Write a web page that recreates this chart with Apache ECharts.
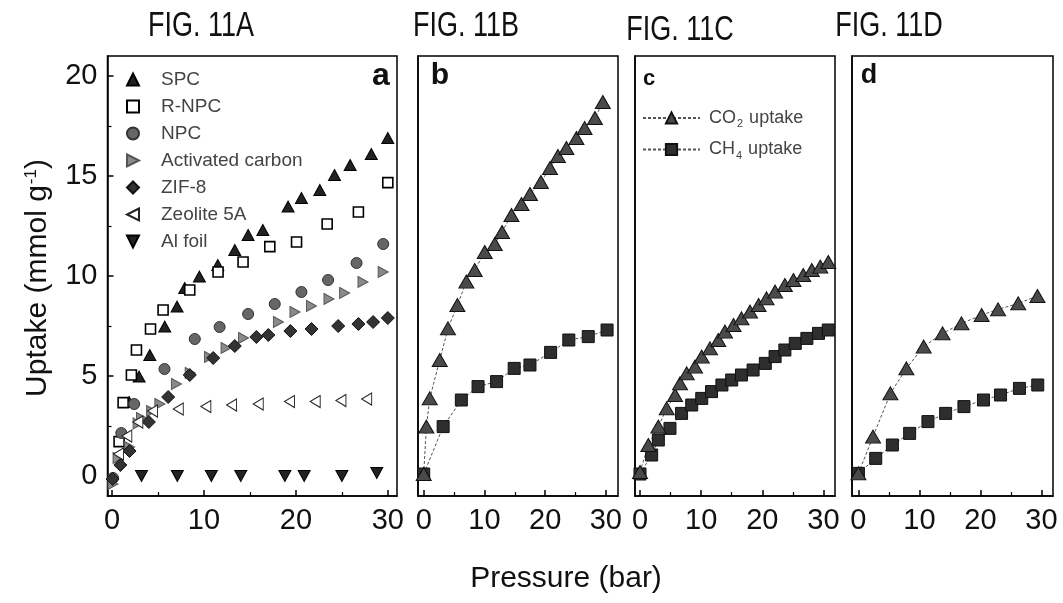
<!DOCTYPE html>
<html><head><meta charset="utf-8">
<script src="https://cdn.jsdelivr.net/npm/echarts@6/dist/echarts.min.js"></script>
<style>html,body{margin:0;padding:0;background:#fff}#c{width:1063px;height:603px}</style>
</head><body><div id="c"></div><script>
// ---- Panel a (FIG. 11A) : [pressure bar, uptake mmol/g]
const spc = [[1.85,3.7],[2.94,4.97],[4.1,6.05],[5.73,7.47],[7.07,8.47],[7.9,9.4],[9.5,9.97],[11.5,10.55],[13.35,11.3],[14.8,12.05],[16.4,12.3],[19.15,13.47],[20.6,13.9],[22.6,14.3],[24.2,15.05],[25.9,15.55],[28.2,16.1],[30.0,16.9]];
const rnpc = [[0.76,1.72],[1.2,3.67],[2.1,5.05],[2.65,6.3],[4.18,7.35],[5.55,8.3],[8.45,9.3],[11.53,10.2],[14.25,10.7],[17.16,11.47],[20.07,11.7],[23.4,12.6],[26.8,13.2],[30.0,14.67]];
const npc = [[0.1,-0.1],[1.0,2.15],[2.4,3.6],[5.7,5.35],[9.0,6.85],[11.7,7.45],[14.8,8.1],[17.7,8.6],[20.6,9.2],[23.5,9.8],[26.6,10.65],[29.5,11.6]];
const activatedCarbon = [[0.1,-0.4],[0.65,0.9],[1.9,1.45],[2.83,2.63],[3.2,2.9],[4.3,3.25],[5.2,3.6],[7.0,4.6],[8.5,5.15],[10.6,5.95],[12.4,6.4],[14.3,6.9],[18.1,7.7],[19.9,8.2],[21.7,8.5],[23.6,8.85],[25.3,9.15],[27.3,9.7],[29.5,10.2]];
const zif8 = [[0.05,-0.15],[0.9,0.55],[1.9,1.25],[4.0,2.7],[6.1,3.95],[8.45,5.05],[11.0,5.9],[13.35,6.5],[15.7,6.95],[17.0,7.05],[19.4,7.25],[21.7,7.35],[24.6,7.5],[26.8,7.6],[28.4,7.7],[30.0,7.9]];
const zeolite5A = [[0.7,1.1],[1.6,2.0],[2.8,2.7],[4.4,3.25],[7.2,3.35],[10.2,3.47],[13.0,3.55],[15.9,3.6],[19.3,3.72],[22.1,3.72],[24.9,3.77],[27.7,3.85]];
const alFoil = [[3.2,0.0],[7.1,0.0],[10.8,0.0],[14.0,0.0],[18.8,0.0],[20.9,0.0],[25.0,0.0],[28.8,0.15]];
// ---- Panel b (FIG. 11B)
const co2B = [[0,0.1],[0.44,2.47],[1.0,3.88],[2.64,5.8],[4.0,7.38],[5.55,8.55],[7.03,9.72],[8.4,10.3],[10.05,11.2],[11.7,11.6],[12.9,12.2],[14.45,13.05],[16.1,13.6],[17.5,14.1],[19.3,14.7],[20.8,15.4],[22.1,16.0],[23.5,16.4],[25.15,16.9],[26.5,17.4],[28.2,17.9],[29.5,18.7]];
const ch4B = [[0,0.1],[3.2,2.47],[6.2,3.8],[8.95,4.47],[12.0,4.72],[14.9,5.38],[17.5,5.55],[20.9,6.18],[23.9,6.8],[27.1,6.97],[30.2,7.3]];
// ---- Panel c (FIG. 11C)
const co2C = [[0,0.2],[1.36,1.55],[3.0,2.47],[4.37,3.38],[5.73,4.05],[6.55,4.63],[7.64,5.13],[9.0,5.47],[10.1,5.97],[11.45,6.38],[12.8,6.8],[13.9,7.22],[15.3,7.55],[16.6,7.88],[18.0,8.22],[19.4,8.55],[20.7,8.88],[22.1,9.22],[23.7,9.55],[25.1,9.8],[26.7,10.05],[28.1,10.3],[29.5,10.47],[30.8,10.7]];
const ch4C = [[0,0.1],[1.9,1.05],[3.0,1.8],[4.9,2.38],[6.8,3.13],[8.46,3.55],[10.1,3.88],[11.7,4.22],[13.4,4.55],[15.0,4.8],[16.6,5.05],[18.5,5.3],[20.5,5.63],[22.1,5.97],[23.7,6.3],[25.4,6.63],[27.3,6.88],[29.2,7.13],[30.8,7.3]];
// ---- Panel d (FIG. 11D)
const co2D = [[0,0.13],[2.4,1.97],[5.25,4.13],[7.87,5.38],[10.7,6.47],[13.8,7.13],[16.9,7.63],[20.2,8.05],[22.9,8.33],[26.2,8.63],[29.35,9.0]];
const ch4D = [[0,0.13],[2.84,0.88],[5.57,1.55],[8.4,2.13],[11.4,2.72],[14.3,3.13],[17.3,3.47],[20.5,3.8],[23.3,4.05],[26.4,4.38],[29.4,4.55]];
// ---- ticks & labels
const xMajor = [0,10,20,30];
const xMinor = [5,15,25];
const yMajor = [0,5,10,15,20];
const yMinor = [2.5,7.5,12.5,17.5];
const panelA_names = ['SPC','R-NPC','NPC','Activated carbon','ZIF-8','Zeolite 5A','Al foil'];
const gasNames = ['CO2 uptake','CH4 uptake'];
const figTitles = ['FIG. 11A','FIG. 11B','FIG. 11C','FIG. 11D'];
const panelLetters = ['a','b','c','d'];

const FONT = '"Liberation Sans", Arial, sans-serif';
const chart = echarts.init(document.getElementById('c'), null, {renderer:'canvas'});

const grids = [
  {left:107.5, top:56, width:289.5, height:440},
  {left:418, top:56, width:200, height:440},
  {left:635, top:56, width:200, height:440},
  {left:852, top:56, width:201, height:440}
].map(g => Object.assign(g, {show:true, borderColor:'#000', borderWidth:1.5, containLabel:false}));
const xRanges = [[-0.5,31],[-0.94,32],[-0.82,31.9],[-1.05,31.9]];

const xAxes = [];
xRanges.forEach((r,i) => {
  xAxes.push({gridIndex:i, type:'value', position:'bottom', min:r[0], max:r[1],
    axisLine:{show:true, onZero:false, lineStyle:{color:'#000', width:1.5}},
    axisTick:{show:true, inside:true, length:6, customValues:xMajor, lineStyle:{color:'#000', width:1.5}},
    axisLabel:{show:true, customValues:xMajor, fontSize:29, color:'#111', margin:10, fontFamily:FONT},
    splitLine:{show:false}});
  xAxes.push({gridIndex:i, type:'value', position:'bottom', min:r[0], max:r[1],
    axisLine:{show:false, onZero:false},
    axisTick:{show:true, inside:true, length:4, customValues:xMinor, lineStyle:{color:'#000', width:1.2}},
    axisLabel:{show:false}, splitLine:{show:false}});
});
const yAxes = [
  {gridIndex:0, type:'value', position:'left', min:-1, max:21,
    axisLine:{show:true, onZero:false, lineStyle:{color:'#000', width:1.5}},
    axisTick:{show:true, inside:true, length:6, customValues:yMajor, lineStyle:{color:'#000', width:1.5}},
    axisLabel:{show:true, customValues:yMajor, fontSize:29, color:'#111', margin:10, fontFamily:FONT},
    splitLine:{show:false}},
  {gridIndex:0, type:'value', position:'left', min:-1, max:21,
    axisLine:{show:false, onZero:false},
    axisTick:{show:true, inside:true, length:4, customValues:yMinor, lineStyle:{color:'#000', width:1.2}},
    axisLabel:{show:false}, splitLine:{show:false}},
];
[1,2,3].forEach(i => yAxes.push({gridIndex:i, type:'value', position:'left', min:-1, max:21,
  axisLine:{show:true, onZero:false, lineStyle:{color:'#000', width:1.5}},
  axisTick:{show:false}, axisLabel:{show:false}, splitLine:{show:false}}));

const triR = 'path://M0,0 L10,5 L0,10 Z';
const triL = 'path://M10,0 L0,5 L10,10 Z';
const triD = 'path://M0,0 L10,0 L5,10 Z';

function sc(name, data, symbol, size, fill, border, bw) {
  return {name, type:'scatter', xAxisIndex:0, yAxisIndex:0, data, symbol, symbolSize:size,
    itemStyle:{color:fill, borderColor:border, borderWidth:bw, opacity:1}, z:3};
}
const series = [
  sc(panelA_names[0], spc, 'triangle', [12,11], '#222', '#000', 1),
  sc(panelA_names[1], rnpc, 'rect', 10, '#fff', '#000', 1.6),
  sc(panelA_names[2], npc, 'circle', 11, '#666', '#333', 1),
  sc(panelA_names[3], activatedCarbon, triR, [10,11], '#8a8a8a', '#555', 1),
  sc(panelA_names[4], zif8, 'diamond', [13,13], '#333', '#111', 1),
  sc(panelA_names[5], zeolite5A, triL, [10,12], '#fff', '#222', 1),
  sc(panelA_names[6], alFoil, triD, [12,11], '#222', '#000', 1)
];
function ln(name, data, gi, symbol, size, fill) {
  return {name, type:'line', xAxisIndex:gi*2, yAxisIndex:gi+1, data, symbol, symbolSize:size,
    showSymbol:true, showAllSymbol:true,
    lineStyle:{type:[3,2], width:1, color:'#555'},
    itemStyle:{color:fill, borderColor:'#111', borderWidth:1}, z:3, animation:false};
}
const sets = [[co2B,ch4B],[co2C,ch4C],[co2D,ch4D]];
sets.forEach((s,k) => {
  const gi = k+1;
  series.push(ln(gasNames[1], s[1], gi, 'rect', 12, '#2e2e2e'));
  series.push(ln(gasNames[0], s[0], gi, 'triangle', [15,13], '#4a4a4a'));
});

const graphics = [];
const titleX = [201,466,680,889], titleY = [26,26,30,26];
figTitles.forEach((t,i) => graphics.push({type:'text', x:titleX[i], y:titleY[i], scaleY:1.3,
  style:{text:t, font:'27px '+FONT, fill:'#111', textAlign:'center', textVerticalAlign:'middle'}}));
const letterPos = [[381,76,32],[440,76,30],[649,79,22],[869,76,27]];
panelLetters.forEach((t,i) => graphics.push({type:'text', x:letterPos[i][0], y:letterPos[i][1],
  style:{text:t, font:'bold '+letterPos[i][2]+'px '+FONT, fill:'#111', textAlign:'center', textVerticalAlign:'middle'}}));
graphics.push({type:'text', x:566, y:579, style:{text:'Pressure (bar)', font:'30px '+FONT, fill:'#111', textAlign:'center', textVerticalAlign:'middle'}});
graphics.push({type:'text', x:38, y:278, rotation:Math.PI/2,
  style:{text:'Uptake (mmol g{sup|-1})', font:'30px '+FONT, fill:'#111', textAlign:'center', textVerticalAlign:'middle',
    rich:{sup:{fontSize:17, fontFamily:FONT, fill:'#111', padding:[0,0,14,1]}}}});

const option = {
  backgroundColor:'#fff',
  animation:false,
  grid:grids, xAxis:xAxes, yAxis:yAxes, series,
  legend:[
    {data:panelA_names, orient:'vertical', left:121, top:64.5, itemWidth:12, itemHeight:12, itemGap:7,
     selectedMode:false, textStyle:{fontSize:19, color:'#444', lineHeight:20, fontFamily:FONT, padding:[0,0,0,17]}},
    {data:gasNames, orient:'vertical', left:637, top:103, itemWidth:57, itemHeight:14, itemGap:10,
     selectedMode:false,
     formatter: n => n === 'CO2 uptake' ? 'CO{s|2} uptake' : 'CH{s|4} uptake',
     textStyle:{fontSize:18, color:'#444', lineHeight:20, fontFamily:FONT, padding:[0,0,0,4],
       rich:{s:{fontSize:11, color:'#444', fontFamily:FONT, padding:[12,1,0,1]}}}}
  ],
  graphic:graphics
};
chart.setOption(option);
</script></body></html>
